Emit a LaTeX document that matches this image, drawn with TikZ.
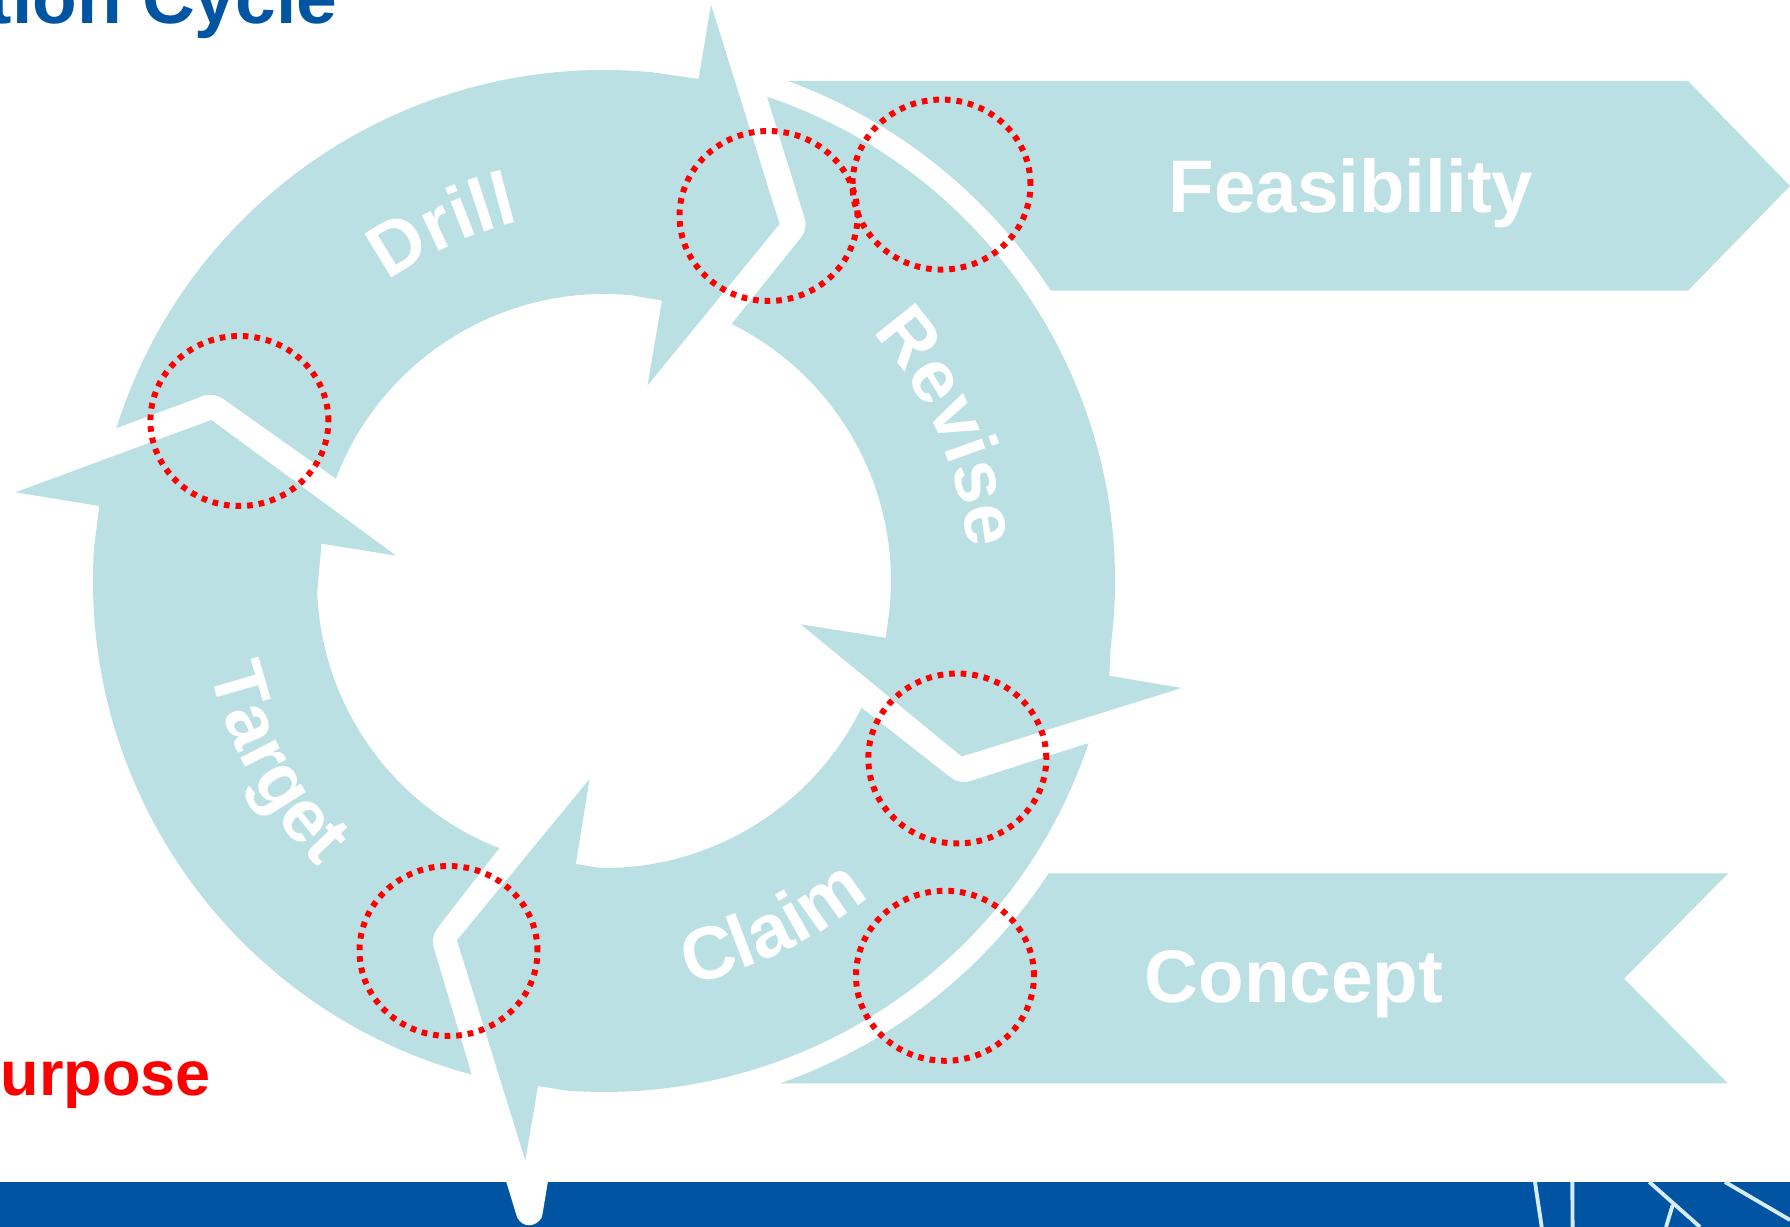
\documentclass[tikz,border=0pt]{standalone}
\usepackage{fontspec}
\setmainfont{Liberation Sans}
\usetikzlibrary{decorations.text}
\definecolor{ringcol}{HTML}{BBE0E3}
\definecolor{barcol}{HTML}{0054A2}
\definecolor{linecol}{HTML}{D8ECF5}
\newcommand{\wordfont}{\fontsize{21.2}{25}\selectfont\bfseries\color{white}}
\begin{document}
\begin{tikzpicture}[x=0.01cm, y=0.01cm]
\tikzstyle{piece}=[fill=ringcol]
\tikzstyle{spot}=[draw=red, line width=1.7pt, dash pattern=on 1.6pt off 1.7pt]
\tikzstyle{logoline}=[draw=linecol, line width=1.1pt]
\tikzstyle{word}=[font=\fontsize{21.2}{25}\selectfont\bfseries, text=white]
\useasboundingbox (0,0) rectangle (1790,1227);

% footer bar
\fill[barcol] (0,0) rectangle (1790,45);
\fill[white] (506,46) -- (517,10) .. controls (522,-1) and (536,-1) .. (542,10) -- (548,46) -- cycle;
\draw[logoline] (1535,45) -- (1541.7,0);
\draw[logoline] (1572.3,45) -- (1572.6,0);
\draw[logoline] (1649.3,45) -- (1700,0);
\draw[logoline] (1672.7,22) -- (1666,0);
\draw[logoline] (1725,45) -- (1790,7);

% banners
\fill[piece] (787,1146) -- (1688,1146) -- (1790,1041) -- (1688,936.4) -- (1050.7,936.4)
  arc[start angle=33.03, end angle=69.9, radius=532.5] -- cycle;
\fill[piece] (1048.4,353.5) -- (1728,353.5) -- (1624,248.3) -- (1728,143.5) -- (779.6,143.5)
  arc[start angle=-70.7, end angle=-33.35, radius=532.5] -- cycle;

% ring pieces
\fill[piece] (116.4,798.8) arc[start angle=162.6, end angle=84.7, radius=511]
  -- (698.6,1148) -- (711,1222.3) -- (779.6,1003) -- (647.5,841.5) -- (662,926.5) -- (631,931.7)
  arc[start angle=84.6, end angle=159.1, radius=287]
  [rounded corners=3] -- (213.5,835) [sharp corners] -- cycle;
\fill[piece] (767,1130.3) arc[start angle=71.4, end angle=-7.57, radius=511]
  -- (1109.3,551.2) -- (1181.6,539) -- (961.8,470.5) -- (800.8,602.6) -- (885.8,589.2) -- (889.7,619)
  arc[start angle=-5.4, end angle=63.6, radius=287]
  [rounded corners=3] -- (808,998) [sharp corners] -- cycle;
\fill[piece] (1088.6,483.9) arc[start angle=-18.5, end angle=-94.3, radius=511]
  -- (538,141) -- (525.3,66.4) -- (457,286.7) -- (589.6,448) -- (575.8,363) -- (600,359)
  arc[start angle=-90.8, end angle=-26.2, radius=287]
  [rounded corners=3] -- (959.5,442.5) [sharp corners] -- cycle;
\fill[piece] (471.7,152.4) arc[start angle=255, end angle=176.3, radius=511]
  -- (99.3,721) -- (15.5,734.7) -- (211.3,807) -- (396,671.4) -- (321.5,683.3) -- (317.2,634.5)
  arc[start angle=182.3, end angle=248.6, radius=287]
  [rounded corners=3] -- (430.5,290) [sharp corners] -- cycle;

% words on the ring
\path[decorate, decoration={text along path, text align=center, text={|\wordfont|Drill}}]
  (604,646) ++(160:369) arc[start angle=160, end angle=69, radius=369];
\path[decorate, decoration={text along path, text align=center, text={|\wordfont|Revise}}]
  (604,646) ++(69:365) arc[start angle=69, end angle=-21, radius=365];
\path[decorate, decoration={text along path, text align=center, text={|\wordfont|Claim}}]
  (604,646) ++(-109:412) arc[start angle=-109, end angle=-19, radius=412];
\path[decorate, decoration={text along path, text align=center, text={|\wordfont|Target}}]
  (604,646) ++(164:404) arc[start angle=164, end angle=254, radius=404];

% other text
\node[word] (feasibility) at (1351,1034) {Feasibility};
\node[word] (concept) at (1294,243) {Concept};
\node[anchor=base east, inner sep=0pt, text=barcol, font=\fontsize{20.8}{25}\selectfont\bfseries] (title) at (338,1203.5) {tion Cycle};
\node[anchor=base west, inner sep=0pt, text=red, font=\fontsize{17.9}{22}\selectfont\bfseries] (purpose) at (0,131) {urpose};

% red circles
\foreach \cx/\cy in {768.5/1011, 941.5/1042.4, 239.4/806, 957.3/468.5, 945/251.2, 448.5/276}
  \draw[spot] (\cx,\cy) ellipse [x radius=89, y radius=85];
\end{tikzpicture}
\end{document}
